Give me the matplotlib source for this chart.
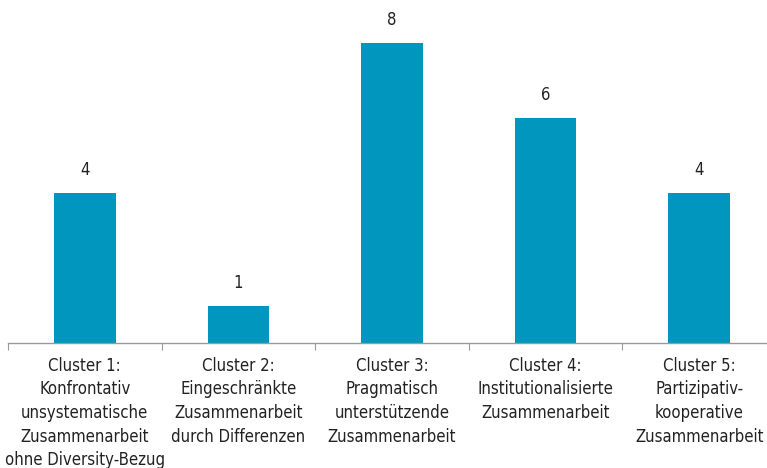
import matplotlib.pyplot as plt

# Chart data.
categories = [
    'Cluster 1:\nKonfrontativ\nunsystematische\nZusammenarbeit\nohne Diversity-Bezug',
    'Cluster 2:\nEingeschränkte\nZusammenarbeit\ndurch Differenzen',
    'Cluster 3:\nPragmatisch\nunterstützende\nZusammenarbeit',
    'Cluster 4:\nInstitutionalisierte\nZusammenarbeit',
    'Cluster 5:\nPartizipativ-\nkooperative\nZusammenarbeit',
]
counts = [4, 1, 8, 6, 4]

plt.rcParams['font.family'] = ['DejaVu Sans']
plt.rcParams['font.stretch'] = 'condensed'

W, H = 767, 468
fig = plt.figure(figsize=(W / 100, H / 100), dpi=100)
# axes from x=8 px to x=776 px, baseline at y=343 px
ax = fig.add_axes([8 / W, (H - 343) / H, 768 / W, 343 / H])

bar_color = '#0096be'
x = range(len(counts))
ax.bar(x, counts, width=0.4, color=bar_color, zorder=2)
for xi, v in zip(x, counts):
    ax.text(xi, v + 0.37, str(v), ha='center', va='bottom', fontsize=12, color='#222222')

ax.set_xlim(-0.5, len(counts) - 0.5)
ax.set_ylim(0, 343 / 37.5)

for s in ['top', 'right', 'left']:
    ax.spines[s].set_visible(False)
ax.spines['bottom'].set_color('#999999')
ax.spines['bottom'].set_linewidth(1.0)
ax.set_yticks([])

# boundary ticks between categories, labels centred under the bars
ax.set_xticks([i - 0.5 for i in range(len(counts) + 1)])
ax.set_xticklabels([])
ax.set_xticks(list(x), minor=True)
ax.set_xticklabels(categories, minor=True, fontsize=12, color='#222222', linespacing=1.4)
ax.tick_params(axis='x', which='major', length=5, color='#999999', direction='out')
ax.tick_params(axis='x', which='minor', length=0, pad=10)

fig.savefig('out.png', dpi=100)
